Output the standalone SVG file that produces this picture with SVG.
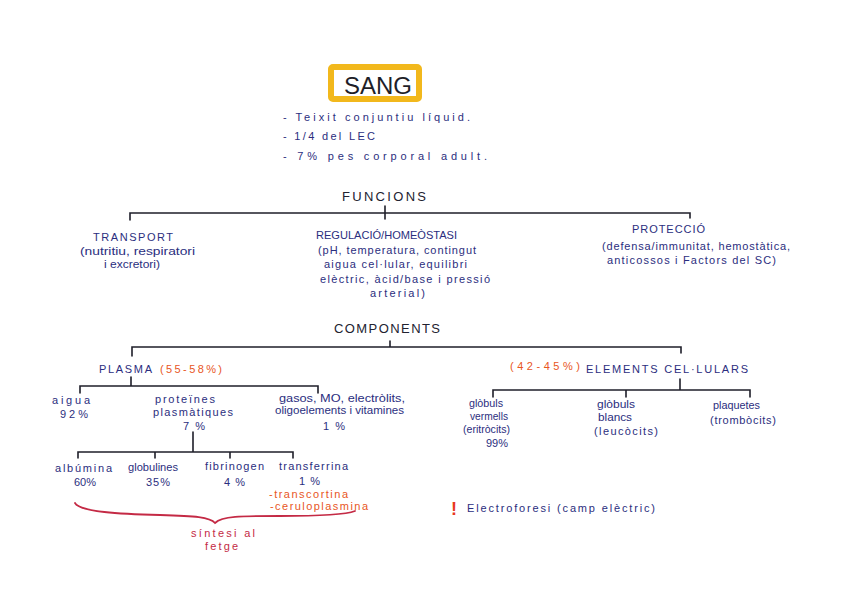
<svg xmlns="http://www.w3.org/2000/svg" width="848" height="599" viewBox="0 0 848 599">
<style>
text{font-family:"Liberation Sans","DejaVu Sans",sans-serif;fill:#2b2e7e;font-size:11px}
.h{fill:#222230;font-size:13px;letter-spacing:1px}
.u{font-size:11px}
.o{fill:#e8561e;font-size:11px}
.r{fill:#c42a45}
.ln{stroke:#1f1f2a;stroke-width:1.6;fill:none;stroke-linecap:round}
</style>
<rect width="848" height="599" fill="#ffffff"/>

<g id="sang">
<rect x="331" y="67" width="88" height="32" fill="#ffffff" stroke="#f2b81c" stroke-width="6" rx="2"/>
<text x="344" y="94" style="fill:#1e1e28;font-size:23px" textLength="68" lengthAdjust="spacingAndGlyphs">SANG</text>
</g>
<g id="sang-notes">
<text x="283" y="121" textLength="187" lengthAdjust="spacing">- Teixit conjuntiu líquid.</text>
<text x="283" y="140" textLength="92" lengthAdjust="spacing">- 1/4 del LEC</text>
<text x="283" y="160" textLength="204" lengthAdjust="spacing">- 7% pes corporal adult.</text>
</g>

<g id="connectors">
<path class="ln" d="M130 220 V213 H690 V218 M385 206 V219"/>
<path class="ln" d="M132 356 V347 H681 V353 M390 341 V347"/>
<path class="ln" d="M131 377 V386 M80 393 V386 H318 V393"/>
<path class="ln" d="M193 432 V452 M78 458 V452 H293 V458 M155 452 V458 M230 452 V458"/>
<path class="ln" d="M680 379 V390 M493 397 V390 H750 V397 M626 390 V397"/>
<path d="M75 503 C80 512 120 514 160 515 C195 516 210 517 215 523 C222 516 240 516 280 516 C320 516 345 515 355 511" fill="none" stroke="#c42a45" stroke-width="1.8" stroke-linecap="round"/>
</g>

<g id="funcions"><text class="h" x="342" y="201" textLength="85" lengthAdjust="spacing">FUNCIONS</text></g>

<g id="transport">
<text class="u" x="93" y="241" textLength="80" lengthAdjust="spacing">TRANSPORT</text>
<text x="80" y="255" textLength="115" lengthAdjust="spacingAndGlyphs">(nutritiu, respiratori</text>
<text x="104" y="268" textLength="56" lengthAdjust="spacingAndGlyphs">i excretori)</text>
</g>
<g id="regulacio">
<text class="u" x="316" y="239" textLength="141" lengthAdjust="spacingAndGlyphs">REGULACIÓ/HOMEÒSTASI</text>
<text x="318" y="254" textLength="158" lengthAdjust="spacing">(pH, temperatura, contingut</text>
<text x="324" y="268" textLength="143" lengthAdjust="spacing">aigua cel·lular, equilibri</text>
<text x="320" y="283" textLength="170" lengthAdjust="spacing">elèctric, àcid/base i pressió</text>
<text x="370" y="297" textLength="55" lengthAdjust="spacing">arterial)</text>
</g>
<g id="proteccio">
<text class="u" x="632" y="233" textLength="73" lengthAdjust="spacing">PROTECCIÓ</text>
<text x="602" y="250" textLength="188" lengthAdjust="spacing">(defensa/immunitat, hemostàtica,</text>
<text x="607" y="264" textLength="169" lengthAdjust="spacing">anticossos i Factors del SC)</text>
</g>

<g id="components"><text class="h" x="334" y="333" textLength="107" lengthAdjust="spacing">COMPONENTS</text></g>

<g id="plasma">
<text class="u" x="99" y="373" textLength="53" lengthAdjust="spacing">PLASMA</text>
<text class="o" x="160" y="373" textLength="62" lengthAdjust="spacing">(55-58%)</text>
</g>
<g id="aigua">
<text x="52" y="404" textLength="38" lengthAdjust="spacing">aigua</text>
<text x="60" y="418" textLength="28" lengthAdjust="spacing">92%</text>
</g>
<g id="proteines">
<text x="155" y="403" textLength="60" lengthAdjust="spacing">proteïnes</text>
<text x="153" y="416" textLength="80" lengthAdjust="spacing">plasmàtiques</text>
<text x="183" y="430" textLength="22" lengthAdjust="spacing">7%</text>
</g>
<g id="gasos">
<text x="279" y="402" textLength="126" lengthAdjust="spacingAndGlyphs">gasos, MO, electròlits,</text>
<text x="275" y="414" textLength="129" lengthAdjust="spacingAndGlyphs">oligoelements i vitamines</text>
<text x="323" y="430" textLength="22" lengthAdjust="spacing">1%</text>
</g>
<g id="albumina">
<text x="55" y="472" textLength="57" lengthAdjust="spacing">albúmina</text>
<text x="74" y="486" textLength="22" lengthAdjust="spacing">60%</text>
</g>
<g id="globulines">
<text x="128" y="471" textLength="50" lengthAdjust="spacingAndGlyphs">globulines</text>
<text x="146" y="486" textLength="24" lengthAdjust="spacing">35%</text>
</g>
<g id="fibrinogen">
<text x="205" y="470" textLength="59" lengthAdjust="spacing">fibrinogen</text>
<text x="224" y="486" textLength="21" lengthAdjust="spacing">4%</text>
</g>
<g id="transferrina">
<text x="279" y="470" textLength="69" lengthAdjust="spacing">transferrina</text>
<text x="299" y="485" textLength="21" lengthAdjust="spacing">1%</text>
<text class="o" x="269" y="498" textLength="79" lengthAdjust="spacing">-transcortina</text>
<text class="o" x="270" y="510" textLength="98" lengthAdjust="spacing">-ceruloplasmina</text>
</g>
<g id="sintesi">
<text class="r" x="191" y="537" textLength="64" lengthAdjust="spacing">síntesi al</text>
<text class="r" x="205" y="550" textLength="33" lengthAdjust="spacing">fetge</text>
</g>

<g id="elements">
<text class="o" x="510" y="370" textLength="70" lengthAdjust="spacing">(42-45%)</text>
<text class="u" x="586" y="373" textLength="162" lengthAdjust="spacing">ELEMENTS CEL·LULARS</text>
</g>
<g id="vermells">
<text x="469" y="407" textLength="34" lengthAdjust="spacingAndGlyphs">glòbuls</text>
<text x="470" y="420" textLength="38" lengthAdjust="spacingAndGlyphs">vermells</text>
<text x="463" y="433" textLength="47" lengthAdjust="spacingAndGlyphs">(eritròcits)</text>
<text x="486" y="447" textLength="22" lengthAdjust="spacing">99%</text>
</g>
<g id="blancs">
<text x="597" y="408" textLength="38" lengthAdjust="spacingAndGlyphs">glòbuls</text>
<text x="598" y="421" textLength="34" lengthAdjust="spacingAndGlyphs">blancs</text>
<text x="594" y="435" textLength="64" lengthAdjust="spacing">(leucòcits)</text>
</g>
<g id="plaquetes">
<text x="713" y="409" textLength="47" lengthAdjust="spacingAndGlyphs">plaquetes</text>
<text x="710" y="424" textLength="66" lengthAdjust="spacing">(trombòcits)</text>
</g>

<g id="electroforesi">
<text x="451" y="515" style="fill:#e8381e;font-size:18px;font-weight:bold">!</text>
<text x="467" y="512" textLength="188" lengthAdjust="spacing">Electroforesi (camp elèctric)</text>
</g>
</svg>
